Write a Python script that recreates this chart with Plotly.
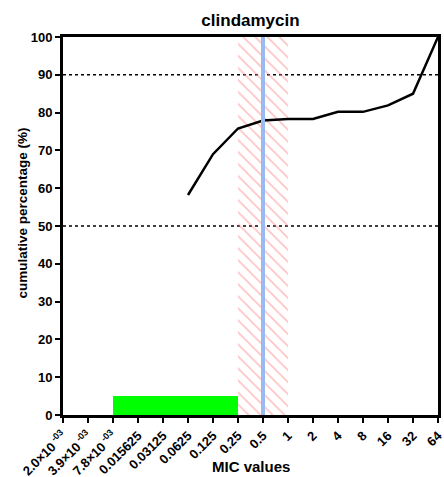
import plotly.graph_objects as go

# ---- data ----
mic_labels = ["2.0×10<sup> -03</sup>", "3.9×10<sup> -03</sup>", "7.8×10<sup> -03</sup>",
              "0.015625", "0.03125", "0.0625", "0.125", "0.25", "0.5", "1",
              "2", "4", "8", "16", "32", "64"]
curve_labels = ["0.0625", "0.125", "0.25", "0.5", "1", "2", "4", "8", "16", "32", "64"]
cumulative_pct = [58.2, 69.0, 75.8, 77.9, 78.3, 78.3, 80.2, 80.2, 81.9, 85.0, 100.0]
green_range = ("7.8×10<sup> -03</sup>", "0.25")
green_height = 5
hatch_range = ("0.25", "1")
hatch_height = 100
breakpoint_label = "0.5"
ref_levels = [50, 90]

idx = {lab: i for i, lab in enumerate(mic_labels)}
curve_x = [idx[l] for l in curve_labels]

FONT = "Liberation Sans, Arial, sans-serif"

fig = go.Figure()

g0, g1 = idx[green_range[0]], idx[green_range[1]]
fig.add_trace(go.Bar(x=[(g0 + g1) / 2], y=[green_height], width=[g1 - g0],
                     marker=dict(color="#00ff00", line=dict(width=0)),
                     showlegend=False, hoverinfo="skip"))

h0, h1 = idx[hatch_range[0]], idx[hatch_range[1]]
fig.add_trace(go.Bar(x=[(h0 + h1) / 2], y=[hatch_height], width=[h1 - h0],
                     marker=dict(color="rgba(0,0,0,0)", line=dict(width=0),
                                 pattern=dict(shape="\\", fgcolor="#ff8585",
                                              bgcolor="rgba(0,0,0,0)", size=8.5,
                                              solidity=0.2, fillmode="overlay")),
                     showlegend=False, hoverinfo="skip"))

for lv in ref_levels:
    fig.add_hline(y=lv, line=dict(color="black", width=1.5, dash="dot"), layer="below")

fig.add_vline(x=idx[breakpoint_label], line=dict(color="#99bbf0", width=4), layer="above")

fig.add_trace(go.Scatter(x=curve_x, y=cumulative_pct, mode="lines",
                         line=dict(color="black", width=2.5),
                         showlegend=False, hoverinfo="skip"))

fig.update_layout(
    width=444, height=477,
    margin=dict(l=63, r=6, t=37, b=62),
    paper_bgcolor="white", plot_bgcolor="white",
    barmode="overlay",
    title=dict(text="clindamycin", xref="paper", x=0.5, xanchor="center",
               yref="container", y=1 - 20 / 477, yanchor="middle",
               font=dict(family=FONT, size=17, color="black", weight="bold")),
    font=dict(family=FONT, color="black"),
    annotations=[
        dict(text="MIC values", xref="paper", yref="paper", x=0.5, y=-51 / 378,
             xanchor="center", yanchor="middle", showarrow=False,
             font=dict(family=FONT, size=15, color="black", weight="bold")),
        dict(text="cumulative percentage (%)", xref="paper", yref="paper",
             x=-41 / 375, y=(415 - 213.5) / 378, textangle=-90,
             xanchor="center", yanchor="middle", showarrow=False,
             font=dict(family=FONT, size=13.5, color="black", weight="bold")),
    ],
)

fig.update_xaxes(
    range=[0, len(mic_labels) - 1], automargin=False, ticklabeloverflow="allow",
    tickmode="array", tickvals=list(range(len(mic_labels))), ticktext=mic_labels,
    tickangle=-45,
    tickfont=dict(family=FONT, size=13, color="black", weight="bold"),
    ticks="outside", ticklen=5, tickwidth=2, tickcolor="black",
    showline=True, linewidth=3, linecolor="black", mirror=True,
    showgrid=False, zeroline=False,
)
fig.update_yaxes(
    range=[0, 100], automargin=False,
    tickmode="array", tickvals=list(range(0, 101, 10)),
    tickfont=dict(family=FONT, size=13, color="black", weight="bold"),
    ticks="outside", ticklen=5, tickwidth=2, tickcolor="black",
    showline=True, linewidth=3, linecolor="black", mirror=True,
    showgrid=False, zeroline=False,
)

fig.write_html("out.html")
